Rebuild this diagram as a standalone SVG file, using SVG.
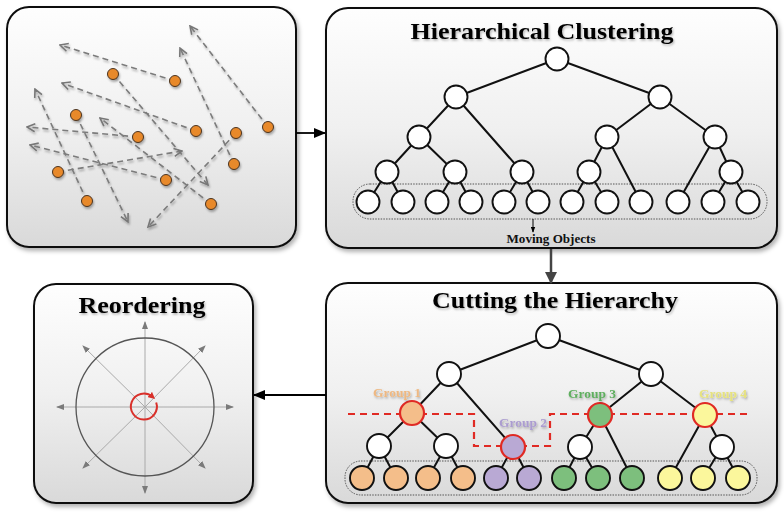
<svg xmlns="http://www.w3.org/2000/svg" width="784" height="514" viewBox="0 0 784 514">
<defs>
<linearGradient id="pg" x1="0" y1="0" x2="0" y2="1">
<stop offset="0" stop-color="#fefefe"/>
<stop offset="0.5" stop-color="#f0f0f0"/>
<stop offset="1" stop-color="#d9d9d9"/>
</linearGradient>
<filter id="sh" x="-10%" y="-10%" width="120%" height="125%">
<feDropShadow dx="2" dy="3" stdDeviation="2" flood-color="#000" flood-opacity="0.3"/>
</filter>
<filter id="ls" x="-20%" y="-20%" width="140%" height="140%">
<feDropShadow dx="1" dy="2" stdDeviation="1.2" flood-color="#000" flood-opacity="0.3"/>
</filter>
<filter id="ts" x="-5%" y="-20%" width="110%" height="150%">
<feDropShadow dx="1" dy="1.5" stdDeviation="1" flood-color="#000" flood-opacity="0.3"/>
</filter>
<marker id="chev" viewBox="0 0 10 10" refX="9" refY="5" markerWidth="10" markerHeight="10" markerUnits="userSpaceOnUse" orient="auto">
<path d="M1,1 L9,5 L1,9" fill="none" stroke="#777" stroke-width="1.6"/>
</marker>
<marker id="ah" viewBox="0 0 12 10" refX="11" refY="5" markerWidth="12" markerHeight="10" markerUnits="userSpaceOnUse" orient="auto">
<path d="M0,0 L12,5 L0,10 z" fill="#000"/>
</marker>
<marker id="ahg" viewBox="0 0 12 12" refX="11" refY="6" markerWidth="12" markerHeight="12" markerUnits="userSpaceOnUse" orient="auto">
<path d="M0,0 L12,6 L0,12 z" fill="#444"/>
</marker>
<marker id="ahs" viewBox="0 0 8 6" refX="7" refY="3" markerWidth="6" markerHeight="5" markerUnits="userSpaceOnUse" orient="auto">
<path d="M0,0 L8,3 L0,6 z" fill="#000"/>
</marker>
<marker id="ahr" viewBox="0 0 8 6" refX="7" refY="3" markerWidth="8" markerHeight="6" markerUnits="userSpaceOnUse" orient="auto">
<path d="M0,0 L8,3 L0,6 z" fill="#7a7a7a"/>
</marker>
<marker id="ahred" viewBox="0 0 8 8" refX="4" refY="4" markerWidth="7" markerHeight="7" markerUnits="userSpaceOnUse" orient="auto">
<path d="M0,0 L8,4 L0,8 z" fill="#d9302a"/>
</marker>
<style>
.panel{fill:url(#pg);stroke:#111;stroke-width:2;filter:url(#sh)}
.title{font-family:"Liberation Serif","Times New Roman",serif;font-weight:bold;fill:#000;text-anchor:middle;filter:url(#ts)}
.dl{stroke:#7c7c7c;stroke-width:1.6;stroke-dasharray:6 4;fill:none;marker-end:url(#chev)}
.dot{fill:#e8892b;stroke:#4a3320;stroke-width:1}
.e{stroke:#111;stroke-width:2;fill:none}
.n{fill:#fff;stroke:#111;stroke-width:1.9}
.dotbox{fill:none;stroke:#555;stroke-width:1;stroke-dasharray:1.5 1.2}
.g1{fill:#f4be8a}.g2{fill:#b9a9d4}.g3{fill:#7dbf7d}.g4{fill:#fbf79c}
.cut{stroke:#e02a24;stroke-width:2.2}
.grp{font-family:"Liberation Serif","Times New Roman",serif;font-weight:bold;font-size:13px;text-anchor:middle;filter:url(#ts)}
.ray{stroke:#aaa;stroke-width:1;marker-end:url(#ahr)}
</style>
</defs>

<!-- Panel 1: moving objects -->
<g id="panel-moving">
<rect class="panel" x="7" y="7" width="289" height="240" rx="22"/>
<g filter="url(#ls)">
<line class="dl" x1="175" y1="81" x2="60" y2="45"/>
<line class="dl" x1="268" y1="127" x2="190" y2="26"/>
<line class="dl" x1="234" y1="164" x2="180" y2="48"/>
<line class="dl" x1="196" y1="131" x2="62" y2="83"/>
<line class="dl" x1="87" y1="201" x2="35" y2="89"/>
<line class="dl" x1="76" y1="115" x2="128" y2="222"/>
<line class="dl" x1="138" y1="137" x2="27" y2="127"/>
<line class="dl" x1="113" y1="74" x2="208" y2="185"/>
<line class="dl" x1="58" y1="172" x2="182" y2="151"/>
<line class="dl" x1="166" y1="180" x2="30" y2="145"/>
<line class="dl" x1="211" y1="204" x2="100" y2="118"/>
<line class="dl" x1="236" y1="133" x2="148" y2="227"/>
</g>
<g filter="url(#ls)">
<circle class="dot" cx="113" cy="74" r="5.5"/>
<circle class="dot" cx="175" cy="81" r="5.5"/>
<circle class="dot" cx="76" cy="115" r="5.5"/>
<circle class="dot" cx="138" cy="137" r="5.5"/>
<circle class="dot" cx="196" cy="131" r="5.5"/>
<circle class="dot" cx="236" cy="133" r="5.5"/>
<circle class="dot" cx="268" cy="127" r="5.5"/>
<circle class="dot" cx="58" cy="172" r="5.5"/>
<circle class="dot" cx="166" cy="180" r="5.5"/>
<circle class="dot" cx="234" cy="164" r="5.5"/>
<circle class="dot" cx="87" cy="201" r="5.5"/>
<circle class="dot" cx="211" cy="204" r="5.5"/>
</g>
</g>

<!-- Panel 2: hierarchical clustering -->
<g id="panel-clustering">
<rect class="panel" x="326" y="8" width="451" height="240" rx="22"/>
<text class="title" x="542" y="39" font-size="24" textLength="263" lengthAdjust="spacingAndGlyphs">Hierarchical Clustering</text>
<rect class="dotbox" x="353" y="184" width="414" height="35" rx="17"/>
<g>
<path class="e" d="M557,59 L456,97 M557,59 L660,97 M456,97 L419,137 M456,97 L522,172 M419,137 L387,172 M419,137 L455,172 M387,172 L368,202 M387,172 L403,202 M455,172 L437,202 M455,172 L471,202 M522,172 L504,202 M522,172 L538,202 M660,97 L607,137 M660,97 L715,137 M607,137 L589,172 M607,137 L641,202 M589,172 L572,202 M589,172 L607,202 M715,137 L678,202 M715,137 L731,172 M731,172 L713,202 M731,172 L748,202"/>
</g>
<g>
<circle class="n" cx="557" cy="59" r="11.5"/>
<circle class="n" cx="456" cy="97" r="11.5"/>
<circle class="n" cx="660" cy="97" r="11.5"/>
<circle class="n" cx="419" cy="137" r="11.5"/>
<circle class="n" cx="607" cy="137" r="11.5"/>
<circle class="n" cx="715" cy="137" r="11.5"/>
<circle class="n" cx="387" cy="172" r="11.5"/>
<circle class="n" cx="455" cy="172" r="11.5"/>
<circle class="n" cx="522" cy="172" r="11.5"/>
<circle class="n" cx="589" cy="172" r="11.5"/>
<circle class="n" cx="731" cy="172" r="11.5"/>
<circle class="n" cx="368" cy="202" r="11.5"/>
<circle class="n" cx="403" cy="202" r="11.5"/>
<circle class="n" cx="437" cy="202" r="11.5"/>
<circle class="n" cx="471" cy="202" r="11.5"/>
<circle class="n" cx="504" cy="202" r="11.5"/>
<circle class="n" cx="538" cy="202" r="11.5"/>
<circle class="n" cx="572" cy="202" r="11.5"/>
<circle class="n" cx="607" cy="202" r="11.5"/>
<circle class="n" cx="641" cy="202" r="11.5"/>
<circle class="n" cx="678" cy="202" r="11.5"/>
<circle class="n" cx="713" cy="202" r="11.5"/>
<circle class="n" cx="748" cy="202" r="11.5"/>
</g>
<line x1="533" y1="219" x2="533" y2="232" stroke="#000" stroke-width="1" marker-end="url(#ahs)"/>
<text x="551" y="243" font-family="Liberation Serif, Times New Roman, serif" font-weight="bold" font-size="12" text-anchor="middle" fill="#111" textLength="89" lengthAdjust="spacingAndGlyphs">Moving Objects</text>
</g>

<!-- Panel 3: cutting the hierarchy -->
<g id="panel-cutting">
<rect class="panel" x="326" y="283" width="451" height="220" rx="22"/>
<text class="title" x="555" y="308" font-size="24" textLength="246" lengthAdjust="spacingAndGlyphs">Cutting the Hierarchy</text>
<rect class="dotbox" x="345" y="461" width="412" height="34" rx="16"/>
<path class="e" d="M548,336 L449,374 M548,336 L651,374 M449,374 L412,413 M449,374 L513,447 M412,413 L379,446 M412,413 L446,446 M379,446 L362,478 M379,446 L396,478 M446,446 L428,478 M446,446 L463,478 M513,447 L496,478 M513,447 L529,478 M651,374 L600,415 M651,374 L705,415 M600,415 L580,447 M600,415 L632,478 M580,447 L564,478 M580,447 L598,478 M705,415 L670,478 M705,415 L722,447 M722,447 L703,478 M722,447 L738,478"/>
<path d="M348,414 H474 V446 H550 V414 H752" fill="none" stroke="#e02a24" stroke-width="2.2" stroke-dasharray="7 5"/>
<circle class="n" cx="548" cy="336" r="12"/>
<circle class="n" cx="449" cy="374" r="12"/>
<circle class="n" cx="651" cy="374" r="12"/>
<circle class="n" cx="379" cy="446" r="12"/>
<circle class="n" cx="446" cy="446" r="12"/>
<circle class="n" cx="580" cy="447" r="12"/>
<circle class="n" cx="722" cy="447" r="12"/>
<circle class="g1 cut" cx="412" cy="413" r="12"/>
<circle class="g2 cut" cx="513" cy="447" r="12"/>
<circle class="g3 cut" cx="600" cy="415" r="12"/>
<circle class="g4 cut" cx="705" cy="415" r="12"/>
<g stroke="#111" stroke-width="1.9">
<circle class="g1" cx="362" cy="478" r="12"/>
<circle class="g1" cx="396" cy="478" r="12"/>
<circle class="g1" cx="428" cy="478" r="12"/>
<circle class="g1" cx="463" cy="478" r="12"/>
<circle class="g2" cx="496" cy="478" r="12"/>
<circle class="g2" cx="529" cy="478" r="12"/>
<circle class="g3" cx="564" cy="478" r="12"/>
<circle class="g3" cx="598" cy="478" r="12"/>
<circle class="g3" cx="632" cy="478" r="12"/>
<circle class="g4" cx="670" cy="478" r="12"/>
<circle class="g4" cx="703" cy="478" r="12"/>
<circle class="g4" cx="738" cy="478" r="12"/>
</g>
<text class="grp" x="397" y="397" fill="#eeb882" textLength="48" lengthAdjust="spacingAndGlyphs">Group 1</text>
<text class="grp" x="523" y="427" fill="#ab9cd0" textLength="48" lengthAdjust="spacingAndGlyphs">Group 2</text>
<text class="grp" x="592" y="398" fill="#5fae5f" textLength="48" lengthAdjust="spacingAndGlyphs">Group 3</text>
<text class="grp" x="723" y="398" fill="#e6e27e" textLength="48" lengthAdjust="spacingAndGlyphs">Group 4</text>
</g>

<!-- Panel 4: reordering -->
<g id="panel-reordering">
<rect class="panel" x="34" y="284" width="219" height="219" rx="22"/>
<text class="title" x="142" y="313" font-size="23" textLength="127" lengthAdjust="spacingAndGlyphs">Reordering</text>
<line class="ray" x1="145" y1="407" x2="57" y2="407"/>
<line class="ray" x1="145" y1="407" x2="233" y2="407"/>
<line class="ray" x1="145" y1="407" x2="145" y2="322"/>
<line class="ray" x1="145" y1="407" x2="145" y2="493"/>
<line class="ray" x1="145" y1="407" x2="83" y2="346"/>
<line class="ray" x1="145" y1="407" x2="205" y2="346"/>
<line class="ray" x1="145" y1="407" x2="83" y2="468"/>
<line class="ray" x1="145" y1="407" x2="205" y2="468"/>
<circle cx="145" cy="407" r="69" fill="none" stroke="#555" stroke-width="1.3"/>
<path d="M156.2,402.5 A13,13 0 1 1 152.4,396.8" fill="none" stroke="#d9302a" stroke-width="2" marker-end="url(#ahred)"/>
</g>

<!-- Connectors -->
<g id="connectors">
<line x1="296" y1="133" x2="325" y2="133" stroke="#000" stroke-width="1.8" marker-end="url(#ah)"/>
<line x1="551" y1="249" x2="551" y2="283" stroke="#444" stroke-width="2.5" marker-end="url(#ahg)"/>
<line x1="326" y1="395" x2="254" y2="395" stroke="#000" stroke-width="1.8" marker-end="url(#ah)"/>
</g>
</svg>
